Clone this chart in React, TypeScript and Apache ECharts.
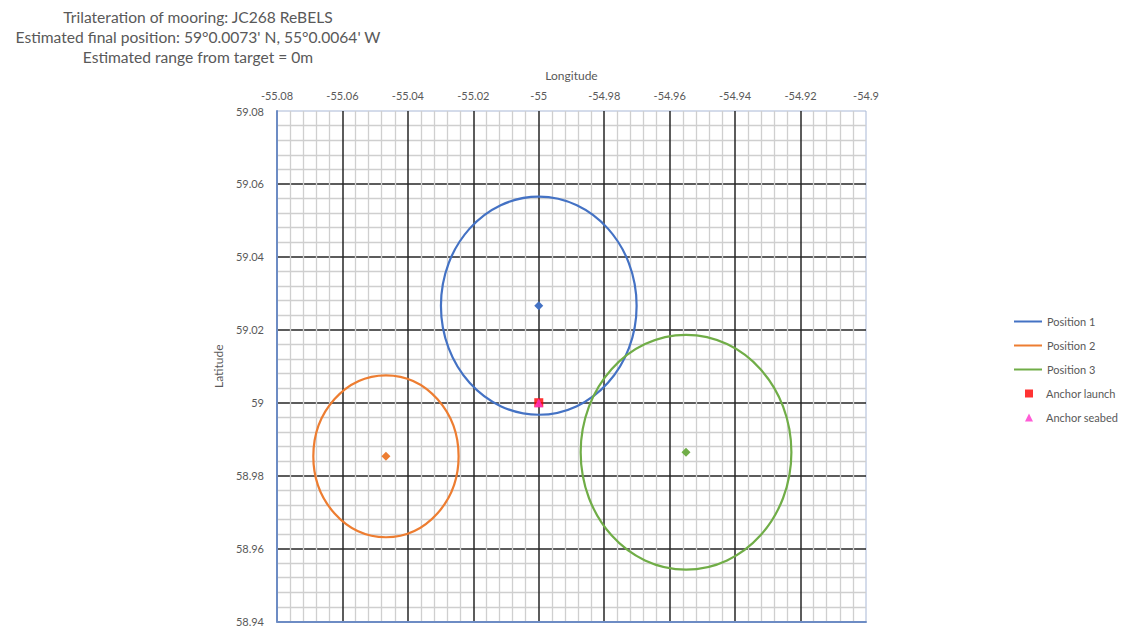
import React, { useEffect, useRef } from 'react';
import * as echarts from 'echarts';

const titleLines = [
  'Trilateration of mooring: JC268 ReBELS',
  "Estimated final position: 59°0.0073' N, 55°0.0064' W",
  'Estimated range from target = 0m',
];
const positionNames = ['Position 1', 'Position 2', 'Position 3'];
const positionColors = ['#4472C4', '#ED7D31', '#70AD47'];
const positionLon = [-55.0, -55.0467, -54.955];
const positionLat = [59.0266, 58.9853, 58.9864];
const positionRadius = [0.0299, 0.0222, 0.0322];
const anchorLaunch = [[-55.0, 59.0]];
const anchorSeabed = [[-55.0, 59.0]];
const lonMin = -55.08;
const lonMax = -54.9;
const latMin = 58.94;
const latMax = 59.08;
const step = 0.02;

const FONT = 'Lato, "Open Sans", sans-serif';
const TXT = '#595959';

export default function App() {
  const ref = useRef<HTMLDivElement>(null);
  useEffect(() => {
    if (!ref.current) return;
    const chart = echarts.init(ref.current, undefined, { renderer: 'svg' });
    const fmt = (v: number) => String(+v.toFixed(2));
    const circleSeries = positionNames.map((name, i) => ({
      name,
      type: 'custom',
      data: [[positionLon[i], positionLat[i], positionRadius[i]]],
      itemStyle: { color: positionColors[i] },
      z: 3,
      renderItem: (params: any, api: any) => {
        const c = api.coord([api.value(0), api.value(1)]);
        const s = api.size([api.value(2), api.value(2)]);
        const d = 4.5;
        return {
          type: 'group',
          children: [
            {
              type: 'ellipse',
              shape: { cx: c[0], cy: c[1], rx: s[0], ry: s[1] },
              style: { fill: 'none', stroke: positionColors[i], lineWidth: 2.2 },
            },
            {
              type: 'polygon',
              shape: {
                points: [
                  [c[0], c[1] - d],
                  [c[0] + d, c[1]],
                  [c[0], c[1] + d],
                  [c[0] - d, c[1]],
                ],
              },
              style: { fill: positionColors[i] },
            },
          ],
        };
      },
    }));
    chart.setOption({
      animation: false,
      textStyle: { fontFamily: FONT },
      title: {
        text: titleLines.join('\n'),
        left: 193,
        top: 2,
        textAlign: 'center',
        textStyle: { fontFamily: FONT, fontSize: 15.6, fontWeight: 'normal', color: TXT, lineHeight: 20 },
      },
      legend: [
        {
          orient: 'vertical',
          left: 1009,
          top: 311,
          itemWidth: 28,
          itemHeight: 2,
          itemGap: 13,
          icon: 'rect',
          data: positionNames,
          textStyle: { fontFamily: FONT, fontSize: 11, color: TXT },
        },
        {
          orient: 'vertical',
          left: 1020,
          top: 383,
          itemWidth: 8,
          itemHeight: 8,
          itemGap: 13,
          data: [
            { name: 'Anchor launch', icon: 'rect' },
            { name: 'Anchor seabed', icon: 'triangle' },
          ],
          textStyle: { fontFamily: FONT, fontSize: 11, color: TXT, padding: [0, 0, 0, 8] },
        },
      ],
      grid: {
        left: 277,
        top: 111,
        right: 261,
        bottom: 2,
        show: true,
        borderColor: '#a9b8d6',
        borderWidth: 1,
      },
      xAxis: [
        {
          type: 'value',
          position: 'top',
          min: lonMin,
          max: lonMax,
          interval: step,
          name: 'Longitude',
          nameLocation: 'middle',
          nameGap: 30,
          nameTextStyle: { fontFamily: FONT, fontSize: 12, color: TXT },
          axisLine: { show: false },
          axisTick: { show: false },
          axisLabel: { formatter: fmt, fontFamily: FONT, fontSize: 11, color: TXT, margin: 10 },
          splitLine: { show: true, showMinLine: false, showMaxLine: false, lineStyle: { color: '#262626', width: 1.5 } },
          minorTick: { show: false, splitNumber: 5 },
          minorSplitLine: { show: true, lineStyle: { color: '#cfcfcf', width: 1.3 } },
        },
        {
          type: 'value',
          position: 'bottom',
          min: lonMin,
          max: lonMax,
          interval: step,
          axisLine: { show: true, onZero: false, lineStyle: { color: '#6d8cc4', width: 2 } },
          axisTick: { show: false },
          axisLabel: { show: false },
          splitLine: { show: false },
        },
      ],
      yAxis: {
        type: 'value',
        min: latMin,
        max: latMax,
        interval: step,
        name: 'Latitude',
        nameLocation: 'middle',
        nameGap: 42,
        nameRotate: 90,
        nameTextStyle: { fontFamily: FONT, fontSize: 12, color: TXT },
        axisLine: { show: true, onZero: false, lineStyle: { color: '#6d8cc4', width: 2 } },
        axisTick: { show: false },
        axisLabel: { formatter: fmt, fontFamily: FONT, fontSize: 11, color: TXT, margin: 13 },
        splitLine: { show: true, showMinLine: false, showMaxLine: false, lineStyle: { color: '#262626', width: 1.5 } },
        minorTick: { show: false, splitNumber: 5 },
        minorSplitLine: { show: true, lineStyle: { color: '#cfcfcf', width: 1.3 } },
      },
      series: [
        ...circleSeries,
        {
          name: 'Anchor launch',
          type: 'scatter',
          data: anchorLaunch,
          symbol: 'rect',
          symbolSize: 9,
          itemStyle: { color: '#FF0000' },
          z: 5,
        },
        {
          name: 'Anchor seabed',
          type: 'scatter',
          data: anchorSeabed,
          symbol: 'triangle',
          symbolSize: 9,
          itemStyle: { color: '#FF33CC' },
          z: 6,
        },
      ],
    });
    return () => chart.dispose();
  }, []);
  return (
    <div
      ref={ref}
      style={{ position: 'fixed', left: 0, top: 0, width: 1127, height: 627, background: '#fff' }}
    />
  );
}
